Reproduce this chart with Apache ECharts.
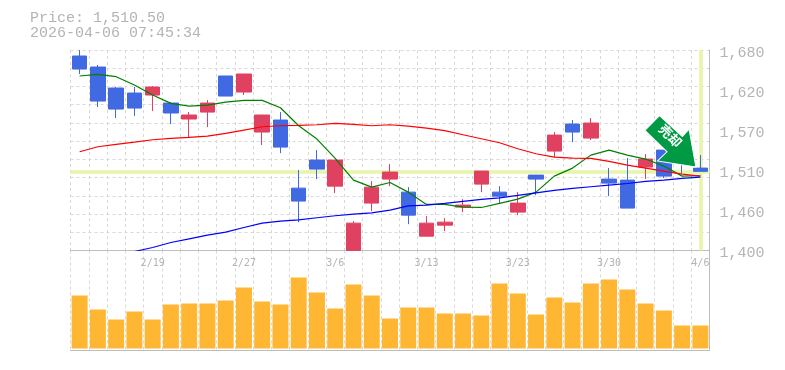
<!DOCTYPE html>
<html>
<head>
<meta charset="utf-8">
<style>
  html, body { margin: 0; padding: 0; background: #fff; }
  #chart { width: 785px; height: 370px; }
</style>
<script src="https://cdn.jsdelivr.net/npm/echarts@6/dist/echarts.min.js"></script>
</head>
<body>
<div id="chart"></div>
<script>
const dates = ['2/13','2/16','2/17','2/18','2/19','2/20','2/24','2/25','2/26','2/27','3/2','3/3','3/4','3/5','3/6','3/9','3/10','3/11','3/12','3/13','3/16','3/17','3/18','3/19','3/23','3/24','3/25','3/26','3/27','3/30','3/31','4/1','4/2','4/3','4/6'];

const opens = [1671.6,1656.2,1626.9,1619.9,1617.1,1605.9,1583.6,1593.3,1643.7,1621.3,1565.4,1582.2,1487.1,1526.3,1489.9,1400,1466.2,1499.7,1481.5,1420,1435.4,1460.6,1492.7,1481.5,1453.6,1505.3,1538.8,1576.6,1557,1499.7,1498.3,1516.5,1540.2,1535.6,1515.1];
const closes = [1653.4,1608.7,1597.5,1598.9,1628.3,1592,1589.2,1605.9,1615.7,1646.5,1589.2,1544.4,1469,1513.7,1526.3,1438.2,1488.5,1509.5,1449.4,1438.2,1439.6,1463.4,1510.9,1475.9,1466.2,1499.7,1561.2,1565.4,1578,1494.1,1459.2,1527.7,1503.9,1526.3,1510.5];
const lows = [1646.5,1600.3,1585,1587.8,1594.7,1576.6,1558.4,1572.4,1615.7,1617.1,1547.2,1536,1439.6,1499.7,1480.1,1400,1455,1489.9,1436.8,1420,1427,1453.6,1481.5,1465.7,1449.4,1477.3,1530.5,1551.4,1554.2,1475.9,1459.2,1499.7,1501.1,1507.6,1510.5];
const highs = [1680,1659,1628.3,1628.3,1629.7,1607.3,1593.3,1610.1,1643.7,1646.5,1589.2,1593.3,1512.3,1540.2,1526.3,1441,1496.9,1520.7,1488.5,1448,1445.2,1471.7,1510.9,1489.9,1481.5,1505.3,1565.4,1582.2,1585,1515.1,1529.1,1534.6,1540.2,1535.6,1533.2];

const maShort = [1643.7,1646,1642.7,1631.1,1617.1,1605.5,1601.7,1603.1,1607.3,1609.7,1609.7,1599.4,1574.2,1555.6,1528.6,1498.3,1488.5,1495,1481.5,1464.3,1464.3,1460.6,1460.1,1465.7,1471.7,1481.5,1503.9,1515.1,1533.2,1540.2,1533.2,1527.7,1517.9,1503.9,1504.4];
const maMid = [1537.9,1544.9,1548.2,1551.4,1554.7,1556.5,1557.9,1559.8,1563.5,1568.2,1572.8,1574.2,1574.7,1575.6,1577.5,1576.1,1574.2,1575.6,1573.8,1571,1567.3,1561.7,1556.1,1550.5,1542.1,1535.1,1530.5,1529.1,1528.6,1524.4,1519.3,1515.1,1510.9,1506.7,1503.9];
const maLong = [null,null,null,1398.6,1404.2,1411.2,1416.3,1421.4,1425.6,1432.1,1438.2,1441,1442.9,1445.7,1448.5,1450.8,1452.6,1456.4,1462.4,1463.4,1465.7,1468.5,1471.3,1473.6,1476.9,1480.6,1483.9,1486.7,1489,1491.3,1493.6,1496.4,1498.3,1500.6,1502.5];

const volumes = [53,39,29,37,29,44,45,45,48,61,47,44,71,56,40,64,53,30,41,41,35,35,33,65,55,34,51,46,65,69,59,45,38,23,23];

const priceLabels = { 1400: '1,400', 1456: '1,460', 1512: '1,510', 1568: '1,570', 1624: '1,620', 1680: '1,680' };
const lastPrice = 1510.5;
const headerLines = ['Price: 1,510.50', '2026-04-06 07:45:34'];

const MONO = '"Liberation Mono", monospace';
const TICK_FONT = '"DejaVu Sans Mono", monospace';
const TEXT_GRAY = '#b4b4b4';
const GRID_GRAY = '#d8d8d8';
const AXIS_GRAY = '#bdbdbd';
const LIME = '#e6f5a9';
const ARROW = 'path://M143 0L0 147L217 357L123 447L500 507L433 133L367 207Z';

const chart = echarts.init(document.getElementById('chart'), null, { renderer: 'canvas' });

const dashed = { show: true, lineStyle: { color: GRID_GRAY, width: 1, type: [3, 3] } };

chart.setOption({
  animation: false,
  backgroundColor: '#fff',
  title: {
    text: headerLines.join('\n'),
    left: 30,
    top: 11,
    padding: 0,
    textStyle: { color: TEXT_GRAY, fontFamily: MONO, fontSize: 15, fontWeight: 'normal', lineHeight: 15 }
  },
  grid: [
    { left: 70.5, top: 50, width: 639, height: 200.5 },
    { left: 70.5, top: 250.5, width: 639, height: 99.5 }
  ],
  xAxis: [
    {
      type: 'category',
      gridIndex: 0,
      data: dates,
      axisLine: { lineStyle: { color: AXIS_GRAY, width: 1 } },
      axisTick: { show: false },
      axisLabel: {
        color: TEXT_GRAY,
        fontFamily: TICK_FONT,
        fontSize: 10,
        margin: 8,
        interval: (i) => (dates.length - 1 - i) % 5 === 0
      },
      splitLine: { ...dashed, interval: 0 }
    },
    {
      type: 'category',
      gridIndex: 1,
      data: dates,
      axisLine: { onZero: false, lineStyle: { color: AXIS_GRAY, width: 1 } },
      axisTick: { show: false },
      axisLabel: { show: false },
      splitLine: { ...dashed, interval: 0 }
    }
  ],
  yAxis: [
    {
      type: 'value',
      gridIndex: 0,
      position: 'right',
      min: 1400,
      max: 1680,
      interval: 56,
      axisLine: { show: true, lineStyle: { color: AXIS_GRAY, width: 1 } },
      axisTick: { show: false },
      axisLabel: {
        color: TEXT_GRAY,
        fontFamily: MONO,
        fontSize: 15,
        margin: 10,
        verticalAlign: 'top',
        lineHeight: 6,
        formatter: (v) => priceLabels[v]
      },
      splitLine: { show: false }
    },
    {
      // only carries the denser dashed grid, 11 rows
      type: 'value',
      gridIndex: 0,
      position: 'left',
      min: 0,
      max: 11,
      interval: 1,
      axisLine: { show: false },
      axisTick: { show: false },
      axisLabel: { show: false },
      splitLine: dashed
    },
    {
      type: 'value',
      gridIndex: 1,
      position: 'right',
      min: -1.5,
      max: 98,
      axisLine: { show: true, lineStyle: { color: AXIS_GRAY, width: 1 } },
      axisTick: { show: false },
      axisLabel: { show: false },
      splitLine: { show: false }
    }
  ],
  series: [
    {
      name: 'last',
      type: 'line',
      xAxisIndex: 0,
      yAxisIndex: 0,
      data: [],
      markLine: {
        silent: true,
        z: 1,
        symbol: 'none',
        label: { show: false },
        lineStyle: { color: LIME, width: 3.5, type: 'solid' },
        data: [{ yAxis: lastPrice }, { xAxis: dates[dates.length - 1] }]
      }
    },
    {
      name: 'candle',
      type: 'candlestick',
      xAxisIndex: 0,
      yAxisIndex: 0,
      barWidth: 15,
      z: 2,
      itemStyle: {
        color: '#e14160',
        color0: '#4169e1',
        borderColor: '#e14160',
        borderColor0: '#4169e1',
        borderWidth: 1
      },
      data: dates.map((d, i) => [opens[i], closes[i], lows[i], highs[i]]),
      markPoint: {
        silent: true,
        z: 6,
        data: [{
          coord: [dates[33], 1552.5],
          symbol: ARROW,
          symbolSize: [51, 51.5],
          symbolOffset: [-11.7, 0],
          itemStyle: { color: '#009944', borderColor: '#ffffff', borderWidth: 1 },
          label: {
            show: true,
            position: 'inside',
            offset: [-4, -4],
            rotate: -45,
            formatter: '売却',
            color: '#ffffff',
            fontFamily: '"Noto Sans CJK JP"',
            fontWeight: 'bold',
            fontSize: 13
          }
        }]
      }
    },
    {
      name: 'ma short',
      type: 'line',
      xAxisIndex: 0,
      yAxisIndex: 0,
      data: maShort,
      showSymbol: false,
      z: 3,
      lineStyle: { color: '#008000', width: 1.2 }
    },
    {
      name: 'ma mid',
      type: 'line',
      xAxisIndex: 0,
      yAxisIndex: 0,
      data: maMid,
      showSymbol: false,
      z: 3,
      lineStyle: { color: '#ff0000', width: 1.2 }
    },
    {
      name: 'ma long',
      type: 'line',
      xAxisIndex: 0,
      yAxisIndex: 0,
      data: maLong,
      showSymbol: false,
      z: 3,
      lineStyle: { color: '#0000ff', width: 1.2 }
    },
    {
      name: 'volume',
      type: 'bar',
      xAxisIndex: 1,
      yAxisIndex: 2,
      barWidth: 16,
      data: volumes,
      itemStyle: { color: '#ffb733' }
    }
  ]
});
</script>
</body>
</html>
